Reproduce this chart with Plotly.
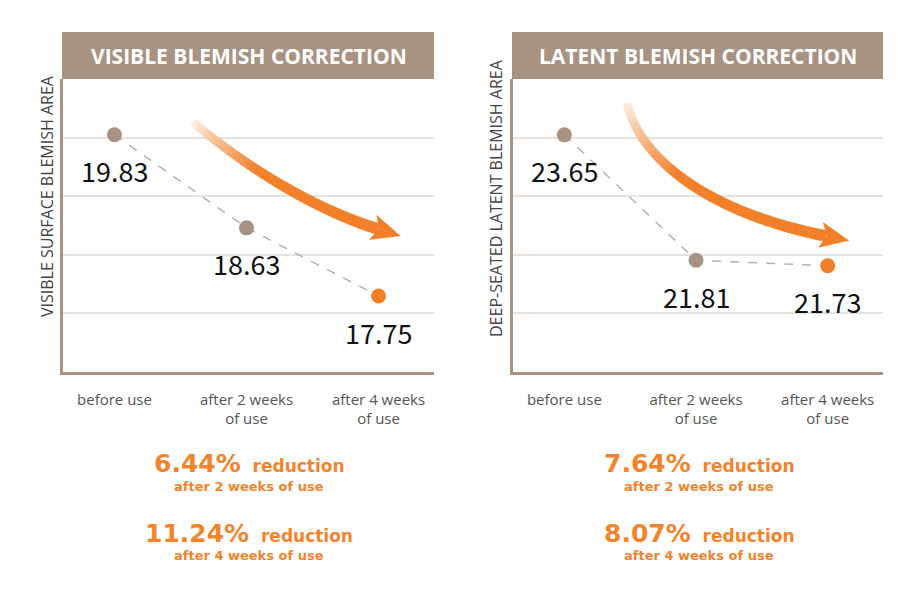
import plotly.graph_objects as go

W, H = 916, 591

# ---------------- data ----------------
categories = ["before use", "after 2 weeks<br>of use", "after 4 weeks<br>of use"]
visible_values = [19.83, 18.63, 17.75]
latent_values = [23.65, 21.81, 21.73]
visible_labels = ["19.83", "18.63", "17.75"]
latent_labels = ["23.65", "21.81", "21.73"]
panel_titles = ["VISIBLE BLEMISH CORRECTION", "LATENT BLEMISH CORRECTION"]
y_titles = ["VISIBLE SURFACE BLEMISH AREA", "DEEP-SEATED LATENT BLEMISH AREA"]
visible_reduction = ["6.44%", "11.24%"]
latent_reduction = ["7.64%", "8.07%"]
reduction_periods = ["after 2 weeks of use", "after 4 weeks of use"]

# ---------------- style ----------------
TAUPE = "#a89282"
ORANGE = "#f07f28"
TEXT_ORANGE = "#f1842c"
GRID = "#e6e2de"
FONT = "Open Sans"
NUMFONT = "Noto Sans CJK KR"
BOLDFONT = "DejaVu Sans"


def px(x):
    return x / W


def py(y):
    return 1 - y / H


panels = [
    dict(values=visible_values, labels=visible_labels, xdom=(63, 434), yrange=(16.77, 20.55),
         title=panel_titles[0], ytitle=y_titles[0], ytitle_pos=(47, 196),
         reductions=visible_reduction,
         arrow=[(193, 122), (225, 150), (300, 205), (378, 229)]),
    dict(values=latent_values, labels=latent_labels, xdom=(513, 883), yrange=(20.17, 24.47),
         title=panel_titles[1], ytitle=y_titles[1], ytitle_pos=(496, 198),
         reductions=latent_reduction,
         arrow=[(627, 103), (640, 160), (710, 213), (826, 236)]),
]
YTOP, YBOT = 79, 372

fig = go.Figure()
shapes = []
annotations = []


def mix(a):
    r0, g0, b0 = 0xf0, 0x7f, 0x28
    r = round(255 * (1 - a) + r0 * a)
    g = round(255 * (1 - a) + g0 * a)
    b = round(255 * (1 - a) + b0 * a)
    return f"rgb({r},{g},{b})"


def bez(P, t):
    u = 1 - t
    c = [u ** 3, 3 * u * u * t, 3 * u * t * t, t ** 3]
    x = sum(ci * p[0] for ci, p in zip(c, P))
    y = sum(ci * p[1] for ci, p in zip(c, P))
    return x, y


def bez_d(P, t):
    u = 1 - t
    dx = 3 * u * u * (P[1][0] - P[0][0]) + 6 * u * t * (P[2][0] - P[1][0]) + 3 * t * t * (P[3][0] - P[2][0])
    dy = 3 * u * u * (P[1][1] - P[0][1]) + 6 * u * t * (P[2][1] - P[1][1]) + 3 * t * t * (P[3][1] - P[2][1])
    n = (dx * dx + dy * dy) ** 0.5
    return dx / n, dy / n


def arrow_shapes(P):
    out = []
    N = 60
    pts = []
    for i in range(N + 1):
        t = i / N
        x, y = bez(P, t)
        dx, dy = bez_d(P, t)
        w = 8 + 3 * t
        nx, ny = -dy, dx
        pts.append(((x + nx * w / 2, y + ny * w / 2), (x - nx * w / 2, y - ny * w / 2)))
    for i in range(N):
        t = (i + 0.5) / N
        a = min(1.0, 0.12 + 0.88 * (t / 0.45)) if t < 0.45 else 1.0
        col = mix(a)
        (l0, r0), (l1, r1) = pts[i], pts[i + 1]
        path = (f"M {px(l0[0])},{py(l0[1])} L {px(l1[0])},{py(l1[1])} "
                f"L {px(r1[0])},{py(r1[1])} L {px(r0[0])},{py(r0[1])} Z")
        out.append(dict(type="path", xref="paper", yref="paper", path=path,
                        fillcolor=col, line=dict(color=col, width=0.6), layer="above"))
    # head
    x, y = P[3]
    dx, dy = bez_d(P, 1.0)
    nx, ny = -dy, dx
    tip = (x + dx * 23, y + dy * 23)
    w1 = (x + nx * 12.5 - dx * 5, y + ny * 12.5 - dy * 5)
    w2 = (x - nx * 12.5 - dx * 5, y - ny * 12.5 - dy * 5)
    notch = (x + dx * 1, y + dy * 1)
    path = (f"M {px(tip[0])},{py(tip[1])} L {px(w1[0])},{py(w1[1])} L {px(notch[0])},{py(notch[1])} "
            f"L {px(w2[0])},{py(w2[1])} Z")
    out.append(dict(type="path", xref="paper", yref="paper", path=path,
                    fillcolor=ORANGE, line=dict(color=ORANGE, width=0.6), layer="above"))
    return out


layout_axes = {}
for k, p in enumerate(panels):
    xn = "x" if k == 0 else f"x{k + 1}"
    yn = "y" if k == 0 else f"y{k + 1}"
    xkey = "xaxis" if k == 0 else f"xaxis{k + 1}"
    ykey = "yaxis" if k == 0 else f"yaxis{k + 1}"
    r0, r1 = p["yrange"]
    layout_axes[xkey] = dict(
        domain=[px(p["xdom"][0]), px(p["xdom"][1])], anchor=yn, type="category",
        range=[-0.39, 2.42], showline=True, linecolor=TAUPE, linewidth=2.5,
        showgrid=False, zeroline=False, ticks="outside", ticklen=12,
        tickcolor="rgba(0,0,0,0)", tickfont=dict(family=FONT, size=15, color="#555"),
        categoryorder="array", categoryarray=categories, fixedrange=True)
    layout_axes[ykey] = dict(
        domain=[py(YBOT), py(YTOP)], anchor=xn, range=[r0, r1],
        tickvals=[r0 + j * (r1 - r0) / 5 for j in range(1, 5)],
        showticklabels=False, showgrid=True, gridcolor=GRID, gridwidth=1.5,
        showline=True, linecolor=TAUPE, linewidth=2.5, zeroline=False, ticks="",
        fixedrange=True)

    # dashed connecting line
    fig.add_trace(go.Scatter(x=categories, y=p["values"], mode="lines", xaxis=xn, yaxis=yn,
                             line=dict(color="#b5b2af", width=1.5, dash="dash"),
                             hoverinfo="skip", showlegend=False))
    # points
    fig.add_trace(go.Scatter(x=categories, y=p["values"], mode="markers", xaxis=xn, yaxis=yn,
                             marker=dict(size=15, color=[TAUPE, TAUPE, ORANGE], line=dict(width=0)),
                             showlegend=False))
    # value labels
    for i, (v, lab) in enumerate(zip(p["values"], p["labels"])):
        annotations.append(dict(xref=xn, yref=yn, x=categories[i], y=v, text=lab, showarrow=False,
                                yshift=-36, xanchor="center", yanchor="middle",
                                font=dict(family=NUMFONT, size=27, color="#111")))
    # title bar
    x0, x1 = p["xdom"]
    shapes.append(dict(type="rect", xref="paper", yref="paper", x0=px(x0 - 1), x1=px(x1),
                       y0=py(YTOP), y1=py(32), fillcolor=TAUPE, line=dict(width=0), layer="above"))
    annotations.append(dict(xref="paper", yref="paper", x=px((x0 + x1) / 2), y=py(55.5),
                            text=f"<b>{p['title']}</b>", showarrow=False,
                            xanchor="center", yanchor="middle",
                            font=dict(family=FONT, size=21, color="white")))
    # y title
    annotations.append(dict(xref="paper", yref="paper", x=px(p["ytitle_pos"][0]), y=py(p["ytitle_pos"][1]),
                            text=p["ytitle"], textangle=-90, showarrow=False,
                            xanchor="center", yanchor="middle",
                            font=dict(family=FONT, size=16, color="#444")))
    # arrow
    shapes.extend(arrow_shapes(p["arrow"]))
    # reduction texts
    cx = (x0 + x1) / 2 + 1
    for j, (red, per) in enumerate(zip(p["reductions"], reduction_periods)):
        ybig = 463 + j * 70
        ysmall = 486 + j * 69
        annotations.append(dict(xref="paper", yref="paper", x=px(cx), y=py(ybig),
                                text=f"<b><span style='font-size:25px'>{red}</span>  reduction</b>",
                                showarrow=False, xanchor="center", yanchor="middle",
                                font=dict(family=BOLDFONT, size=17, color=TEXT_ORANGE)))
        annotations.append(dict(xref="paper", yref="paper", x=px(cx), y=py(ysmall),
                                text=f"<b>{per}</b>", showarrow=False,
                                xanchor="center", yanchor="middle",
                                font=dict(family=BOLDFONT, size=13, color=TEXT_ORANGE)))

fig.update_layout(
    width=W, height=H, margin=dict(l=0, r=0, t=0, b=0),
    paper_bgcolor="white", plot_bgcolor="white",
    shapes=shapes, annotations=annotations, showlegend=False,
    **layout_axes)

fig.write_html("out.html")
